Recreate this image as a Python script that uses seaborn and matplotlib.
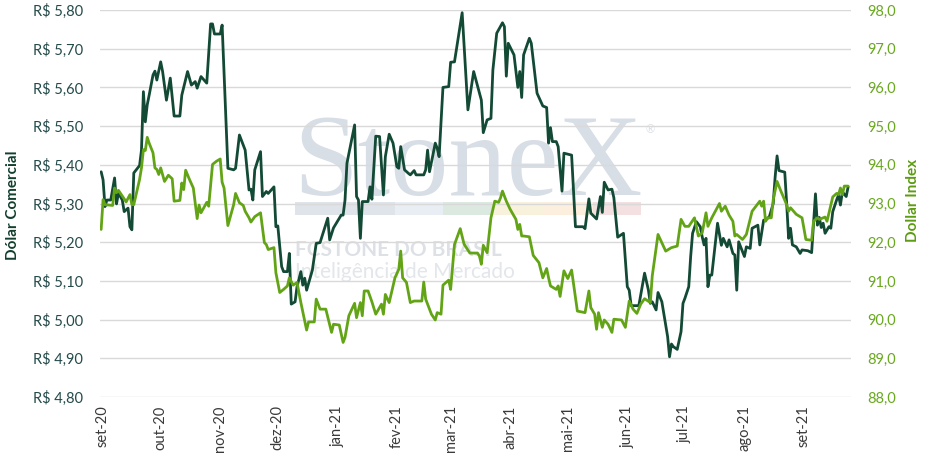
import numpy as np
import pandas as pd
import matplotlib
matplotlib.use("Agg")
import matplotlib.pyplot as plt
import matplotlib.patches as mpatches
from matplotlib.ticker import FuncFormatter, FixedLocator
import seaborn as sns

# ---------------- data (days counted from 2020-09-01) ----------------
START = "2020-09-01"

brl_days = [-1, 0, 1, 2, 4, 6, 7, 8, 10, 11,
            13, 14, 15, 16, 19, 20, 21, 22, 23, 24,
            26, 27, 28, 30, 31, 33, 35, 37, 40, 41,
            44, 46, 48, 49, 51, 54, 56, 57, 58, 61,
            62, 65, 68, 69, 71, 74, 76, 77, 78, 79,
            82, 83, 85, 86, 89, 90, 91, 93, 94, 96,
            97, 98, 100, 101, 103, 104, 105, 106, 109, 111,
            113, 117, 118, 120, 124, 125, 126, 127, 131, 132,
            133, 134, 135, 138, 139, 140, 142, 144, 146, 147,
            149, 151, 153, 154, 155, 157, 159, 160, 162, 163,
            167, 168, 169, 170, 173, 174, 175, 177, 180, 181,
            183, 187, 190, 193, 197, 198, 200, 202, 203, 205,
            208, 209, 210, 211, 214, 216, 217, 218, 219, 222,
            223, 226, 229, 231, 232, 233, 234, 236, 237, 239,
            240, 244, 246, 250, 251, 253, 254, 257, 259, 260,
            261, 263, 265, 266, 268, 271, 273, 274, 275, 278,
            279, 280, 282, 284, 285, 286, 288, 289, 291, 292,
            294, 295, 296, 297, 299, 301, 302, 303, 305, 306,
            307, 309, 311, 312, 313, 314, 315, 316, 317, 320,
            322, 323, 325, 326, 328, 329, 330, 331, 334, 335,
            337, 338, 341, 342, 344, 345, 347, 349, 350, 351,
            352, 355, 356, 357, 358, 359, 361, 363, 364, 367,
            369, 371, 372, 373, 374, 375, 376, 378, 379, 380,
            382, 383, 384, 385, 387, 388]

brl_values = [5.382, 5.361, 5.292, 5.309, 5.309, 5.366, 5.299, 5.327, 5.309, 5.279,
              5.288, 5.240, 5.232, 5.379, 5.398, 5.438, 5.589, 5.511, 5.555, 5.580,
              5.632, 5.642, 5.619, 5.666, 5.641, 5.567, 5.624, 5.526, 5.526, 5.580,
              5.641, 5.606, 5.615, 5.598, 5.628, 5.611, 5.764, 5.764, 5.738, 5.738,
              5.761, 5.391, 5.387, 5.391, 5.477, 5.438, 5.335, 5.337, 5.309, 5.387,
              5.434, 5.318, 5.331, 5.326, 5.343, 5.240, 5.242, 5.137, 5.124, 5.124,
              5.171, 5.040, 5.046, 5.085, 5.124, 5.089, 5.107, 5.076, 5.128, 5.197,
              5.199, 5.262, 5.206, 5.237, 5.270, 5.270, 5.309, 5.404, 5.503, 5.318,
              5.309, 5.210, 5.305, 5.305, 5.343, 5.311, 5.474, 5.473, 5.322, 5.421,
              5.479, 5.456, 5.395, 5.391, 5.447, 5.387, 5.378, 5.374, 5.385, 5.374,
              5.374, 5.387, 5.438, 5.382, 5.456, 5.443, 5.421, 5.600, 5.602, 5.665,
              5.666, 5.793, 5.542, 5.641, 5.567, 5.483, 5.516, 5.520, 5.645, 5.740,
              5.767, 5.757, 5.629, 5.714, 5.684, 5.600, 5.641, 5.574, 5.684, 5.727,
              5.714, 5.585, 5.552, 5.548, 5.456, 5.496, 5.460, 5.460, 5.447, 5.332,
              5.430, 5.425, 5.240, 5.240, 5.235, 5.312, 5.275, 5.260, 5.318, 5.277,
              5.355, 5.335, 5.337, 5.315, 5.213, 5.223, 5.085, 5.076, 5.036, 5.036,
              5.036, 5.064, 5.120, 5.076, 5.042, 5.046, 5.025, 5.070, 5.046, 5.016,
              4.956, 4.904, 4.937, 4.930, 4.923, 4.969, 5.042, 5.055, 5.085, 5.163,
              5.223, 5.253, 5.240, 5.214, 5.193, 5.210, 5.085, 5.115, 5.115, 5.249,
              5.192, 5.210, 5.188, 5.206, 5.171, 5.167, 5.076, 5.201, 5.163, 5.188,
              5.184, 5.236, 5.244, 5.193, 5.257, 5.257, 5.266, 5.300, 5.369, 5.423,
              5.385, 5.381, 5.300, 5.210, 5.236, 5.193, 5.188, 5.171, 5.180, 5.178,
              5.173, 5.325, 5.244, 5.264, 5.238, 5.249, 5.223, 5.240, 5.236, 5.279,
              5.309, 5.322, 5.296, 5.330, 5.318, 5.343]

dxy_days = [-1, 0, 1, 5, 6, 7, 8, 11, 12, 14,
            15, 16, 19, 20, 21, 22, 23, 24, 26, 27,
            28, 29, 30, 32, 34, 36, 37, 40, 41, 42,
            43, 45, 47, 49, 50, 51, 54, 55, 57, 59,
            61, 62, 63, 65, 68, 69, 71, 73, 74, 76,
            77, 79, 82, 84, 85, 86, 89, 90, 92, 94,
            96, 97, 99, 101, 103, 105, 106, 107, 110, 111,
            113, 116, 119, 120, 123, 125, 126, 128, 131, 132,
            134, 135, 136, 138, 140, 142, 145, 146, 147, 149,
            152, 154, 155, 156, 158, 160, 162, 166, 167, 168,
            171, 173, 174, 176, 177, 180, 181, 183, 186, 188,
            191, 195, 196, 197, 198, 200, 202, 204, 206, 207,
            208, 210, 212, 215, 216, 217, 218, 219, 222, 224,
            227, 229, 231, 232, 233, 236, 237, 238, 240, 242,
            244, 247, 251, 253, 254, 256, 257, 258, 260, 261,
            263, 265, 266, 270, 272, 274, 276, 278, 280, 282,
            285, 286, 289, 293, 296, 299, 301, 303, 305, 308,
            310, 312, 314, 315, 317, 321, 322, 324, 326, 328,
            329, 330, 333, 335, 338, 340, 342, 343, 344, 345,
            346, 348, 349, 351, 353, 356, 357, 358, 361, 364,
            366, 369, 370, 372, 373, 376, 377, 380, 382, 383,
            384, 385, 386, 388]

dxy_values = [92.33, 93.10, 92.97, 92.95, 93.40, 93.28, 93.34, 93.12, 93.04, 93.23,
              92.97, 92.97, 93.62, 93.92, 94.39, 94.37, 94.71, 94.56, 94.31, 93.92,
              93.88, 93.75, 93.92, 93.57, 93.73, 93.64, 93.06, 93.08, 93.53, 93.36,
              93.86, 93.62, 93.40, 92.61, 92.96, 92.76, 93.03, 92.93, 94.01, 94.09,
              94.15, 93.55, 93.40, 92.43, 92.97, 93.26, 93.02, 92.95, 92.80, 92.63,
              92.52, 92.66, 92.76, 91.99, 91.94, 91.81, 91.86, 91.21, 90.70, 90.78,
              90.87, 91.08, 90.89, 90.96, 90.44, 89.97, 89.73, 89.94, 89.94, 90.53,
              90.27, 90.27, 89.67, 89.88, 89.86, 89.41, 89.54, 90.10, 90.42, 90.05,
              90.44, 90.10, 90.74, 90.74, 90.46, 90.14, 90.40, 90.14, 90.65, 90.44,
              91.08, 91.30, 91.77, 91.08, 90.96, 90.44, 90.48, 90.48, 90.97, 90.53,
              90.14, 89.99, 90.18, 90.14, 90.89, 91.02, 90.78, 91.94, 92.35, 91.95,
              91.72, 91.72, 91.64, 91.43, 91.92, 91.73, 92.63, 93.06, 93.03, 93.15,
              93.32, 93.06, 92.85, 92.59, 92.33, 92.46, 92.16, 92.16, 92.14, 91.66,
              91.47, 91.08, 91.32, 91.08, 90.87, 90.78, 90.87, 90.60, 91.26, 91.06,
              91.28, 90.22, 90.18, 90.74, 90.31, 90.14, 89.75, 90.18, 89.80, 89.99,
              89.88, 89.67, 90.01, 89.99, 89.80, 90.48, 90.27, 90.16, 90.40, 90.54,
              90.44, 91.13, 92.20, 91.77, 91.86, 91.90, 92.59, 92.41, 92.41, 92.63,
              92.16, 92.24, 92.76, 92.41, 92.63, 93.00, 92.80, 92.93, 92.70, 92.54,
              92.16, 92.20, 92.07, 92.20, 92.80, 92.93, 93.06, 92.93, 93.06, 92.54,
              92.63, 92.63, 93.10, 93.57, 93.32, 92.97, 92.80, 92.89, 92.72, 92.63,
              92.07, 92.05, 92.54, 92.63, 92.59, 92.65, 92.54, 93.17, 93.26, 93.23,
              93.40, 93.23, 93.45, 93.45]

month_labels = ["set-20", "out-20", "nov-20", "dez-20", "jan-21", "fev-21", "mar-21",
                "abr-21", "mai-21", "jun-21", "jul-21", "ago-21", "set-21"]

left_title = "Dólar Comercial"
right_title = "Dollar Index"

assert len(brl_days) == len(brl_values), (len(brl_days), len(brl_values))
assert len(dxy_days) == len(dxy_values), (len(dxy_days), len(dxy_values))

start = pd.Timestamp(START)
brl = pd.DataFrame({"date": start + pd.to_timedelta(brl_days, unit="D"), "value": brl_values})
dxy = pd.DataFrame({"date": start + pd.to_timedelta(dxy_days, unit="D"), "value": dxy_values})

# ---------------- style ----------------
sns.set_theme(style="white")
plt.rcParams["font.family"] = ["Lato", "DejaVu Sans"]

DARK = "#134a35"
LIGHT = "#63a417"
GRID = "#d9d9d9"

fig = plt.figure(figsize=(9.29, 4.61), dpi=100)
ax = fig.add_axes([100 / 929, 1 - 397 / 461, 751 / 929, 387 / 461])
ax2 = ax.twinx()

# watermark (behind data)
wm_col = "#d8dee6"
ax.text(0.49, 0.522, "StoneX", transform=ax.transAxes, ha="center", va="baseline",
        fontsize=84, family=["Liberation Serif", "DejaVu Serif"], color=wm_col, zorder=0)
ax.text(0.733, 0.69, "®", transform=ax.transAxes, ha="center", va="center",
        fontsize=8, color=wm_col, zorder=0)
band = [("#dfe3ea", 0.260, 0.393), ("#e9eef5", 0.393, 0.457), ("#dce9e1", 0.457, 0.522),
        ("#f8f1dc", 0.522, 0.590), ("#fcefdd", 0.590, 0.657), ("#f4dfe1", 0.657, 0.720)]
for c, x0, x1 in band:
    ax.add_patch(mpatches.Rectangle((x0, 0.47), x1 - x0, 0.033, transform=ax.transAxes,
                                    facecolor=c, edgecolor="none", zorder=0))
ax.text(0.26, 0.38, "FCSTONE DO BRASIL", transform=ax.transAxes, ha="left", va="center",
        fontsize=15, fontweight="bold", color="#dde1e6", zorder=0)
ax.text(0.26, 0.322, "Inteligência de Mercado", transform=ax.transAxes, ha="left",
        va="center", fontsize=15, color="#e3e6ea", zorder=0)

sns.lineplot(data=brl, x="date", y="value", ax=ax, color=DARK, linewidth=2.0,
             estimator=None, sort=False, zorder=3)
sns.lineplot(data=dxy, x="date", y="value", ax=ax2, color=LIGHT, linewidth=2.0,
             estimator=None, sort=False, zorder=3)

ax.set_ylim(4.80, 5.80)
ax2.set_ylim(88.0, 98.0)
ax.set_yticks(np.arange(4.80, 5.801, 0.10))
ax2.set_yticks(np.arange(88.0, 98.01, 1.0))
ax.yaxis.set_major_formatter(FuncFormatter(lambda v, p: ("R$ %.2f" % v).replace(".", ",")))
ax2.yaxis.set_major_formatter(FuncFormatter(lambda v, p: ("%.1f" % v).replace(".", ",")))

ax.set_xlim(start - pd.Timedelta(days=1.6), start + pd.Timedelta(days=389.5))
month_ticks = pd.date_range(start, periods=len(month_labels), freq="MS")
ax.xaxis.set_major_locator(FixedLocator(matplotlib.dates.date2num(month_ticks)))
ax.set_xticklabels(month_labels, rotation=90, fontsize=10.5, color="#3a3a3a")

ax.grid(axis="y", color=GRID, linewidth=1)
ax.grid(axis="x", visible=False)
ax2.grid(False)
for a in (ax, ax2):
    for s in a.spines.values():
        s.set_visible(False)
    a.tick_params(length=0)
ax.tick_params(axis="y", labelsize=10.5, labelcolor="#244a4a", pad=12)
ax2.tick_params(axis="y", labelsize=10.5, labelcolor="#6aa820", pad=12)
ax.tick_params(axis="x", pad=6)

ax.set_xlabel("")
ax.set_ylabel("")
ax2.set_ylabel("")
fig.text(13 / 929, 1 - 205 / 461, left_title, rotation=90, ha="center", va="center",
         fontsize=11, fontweight="bold", color="#123f2e")
fig.text(913 / 929, 1 - 200 / 461, right_title, rotation=90, ha="center", va="center",
         fontsize=11, fontweight="bold", color="#5c9c12")

fig.savefig("out.png", dpi=100)
